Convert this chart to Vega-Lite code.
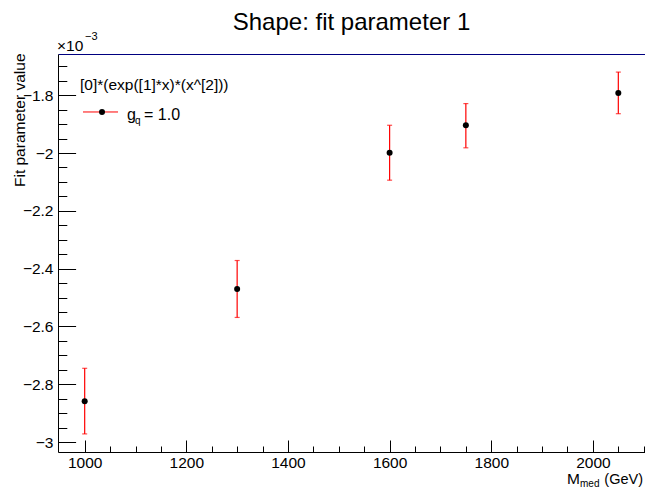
{
  "$schema": "https://vega.github.io/schema/vega-lite/v6.json",
  "width": 587,
  "height": 398,
  "autosize": {"type": "none"},
  "padding": {"left": 58, "top": 54, "right": 0, "bottom": 39},
  "background": "white",
  "config": {
    "view": {"stroke": null},
    "font": "Liberation Sans",
    "axis": {
      "grid": false,
      "labelFont": "Liberation Sans",
      "titleFont": "Liberation Sans",
      "labelColor": "black",
      "tickColor": "black",
      "domainColor": "black",
      "labelFontSize": 15.5,
      "titleFontSize": 15.5,
      "titleFontWeight": "normal",
      "titleColor": "black",
      "tickWidth": 1,
      "domainWidth": 1
    }
  },
  "title": {
    "text": "Shape: fit parameter 1",
    "font": "Liberation Sans",
    "fontSize": 24,
    "fontWeight": "normal",
    "color": "black",
    "anchor": "middle",
    "frame": "group",
    "baseline": "alphabetic",
    "offset": -23
  },
  "data": {
    "values": [
      {"mass": 1000, "value": -2.859, "lo": -2.972, "hi": -2.745},
      {"mass": 1300, "value": -2.471, "lo": -2.569, "hi": -2.372},
      {"mass": 1600, "value": -1.999, "lo": -2.094, "hi": -1.904},
      {"mass": 1750, "value": -1.904, "lo": -1.982, "hi": -1.829},
      {"mass": 2050, "value": -1.792, "lo": -1.864, "hi": -1.720}
    ]
  },
  "resolve": {"axis": {"x": "independent", "y": "independent"}},
  "layer": [
    {
      "mark": {"type": "rule", "color": "#ff0000", "strokeWidth": 1.2},
      "encoding": {
        "x": {
          "field": "mass", "type": "quantitative",
          "scale": {"domain": [947.5, 2102.5], "nice": false, "zero": false},
          "axis": {
            "orient": "bottom",
            "values": [1000, 1200, 1400, 1600, 1800, 2000],
            "tickSize": -12,
            "labelPadding": 15.5,
            "format": "d",
            "labelFlush": false,
            "labelOverlap": false,
            "title": null
          }
        },
        "y": {
          "field": "lo", "type": "quantitative",
          "scale": {"domain": [-3.0346, -1.6574], "nice": false, "zero": false},
          "axis": {
            "orient": "left",
            "values": [-3, -2.8, -2.6, -2.4, -2.2, -2, -1.8],
            "tickSize": -17.6,
            "labelPadding": 22.6,
            "labelExpr": "'\u2212' + format(-datum.value, '~g')",
            "labelFlush": false,
            "labelOverlap": false,
            "title": "Fit parameter value",
            "titleAngle": 270,
            "titleX": -34,
            "titleY": -1,
            "titleAlign": "right",
            "titleBaseline": "alphabetic"
          }
        },
        "y2": {"field": "hi"}
      }
    },
    {
      "mark": {"type": "tick", "orient": "horizontal", "color": "#ff0000", "size": 5, "thickness": 1.2},
      "encoding": {
        "x": {"field": "mass", "type": "quantitative", "scale": {"domain": [947.5, 2102.5], "nice": false, "zero": false}, "axis": null},
        "y": {"field": "lo", "type": "quantitative", "scale": {"domain": [-3.0346, -1.6574], "nice": false, "zero": false}, "axis": null}
      }
    },
    {
      "mark": {"type": "tick", "orient": "horizontal", "color": "#ff0000", "size": 5, "thickness": 1.2},
      "encoding": {
        "x": {"field": "mass", "type": "quantitative", "scale": {"domain": [947.5, 2102.5], "nice": false, "zero": false}, "axis": null},
        "y": {"field": "hi", "type": "quantitative", "scale": {"domain": [-3.0346, -1.6574], "nice": false, "zero": false}, "axis": null}
      }
    },
    {
      "mark": {"type": "circle", "color": "black", "size": 36, "opacity": 1},
      "encoding": {
        "x": {
          "field": "mass", "type": "quantitative",
          "scale": {"domain": [947.5, 2102.5], "nice": false, "zero": false},
          "axis": {
            "orient": "bottom",
            "values": [1050, 1100, 1150, 1250, 1300, 1350, 1450, 1500, 1550, 1650, 1700, 1750, 1850, 1900, 1950, 2050, 2100],
            "tickSize": -6,
            "labels": false,
            "domain": false,
            "title": null
          }
        },
        "y": {
          "field": "value", "type": "quantitative",
          "scale": {"domain": [-3.0346, -1.6574], "nice": false, "zero": false},
          "axis": {
            "orient": "left",
            "values": [-2.95, -2.9, -2.85, -2.75, -2.7, -2.65, -2.55, -2.5, -2.45, -2.35, -2.3, -2.25, -2.15, -2.1, -2.05, -1.95, -1.9, -1.85, -1.75, -1.7],
            "tickSize": -8.8,
            "labels": false,
            "domain": false,
            "title": null
          }
        }
      }
    },
    {
      "data": {"values": [{}]},
      "mark": {"type": "text", "text": "×10", "align": "left", "baseline": "alphabetic", "dx": -1, "dy": -3, "fontSize": 15.5, "color": "black"},
      "encoding": {
        "x": {"datum": 947.5, "type": "quantitative", "scale": {"domain": [947.5, 2102.5], "nice": false, "zero": false},
          "axis": {"orient": "top", "domainColor": "#000080", "domainWidth": 1, "ticks": false, "labels": false, "title": null}},
        "y": {"datum": -1.6574, "type": "quantitative", "scale": {"domain": [-3.0346, -1.6574], "nice": false, "zero": false}, "axis": null}
      }
    },
    {
      "data": {"values": [{}]},
      "mark": {"type": "text", "text": "−3", "align": "left", "baseline": "alphabetic", "dx": 27, "dy": -14, "fontSize": 11, "color": "black"},
      "encoding": {
        "x": {"datum": 947.5, "type": "quantitative", "axis": null},
        "y": {"datum": -1.6574, "type": "quantitative", "axis": null}
      }
    },
    {
      "data": {"values": [{}]},
      "mark": {"type": "text", "text": "[0]*(exp([1]*x)*(x^[2]))", "align": "left", "baseline": "alphabetic", "dx": 22, "dy": 36, "fontSize": 15.5, "color": "black"},
      "encoding": {
        "x": {"datum": 947.5, "type": "quantitative", "axis": null},
        "y": {"datum": -1.6574, "type": "quantitative", "axis": null}
      }
    },
    {
      "data": {"values": [{}]},
      "mark": {"type": "rule", "color": "#ff0000", "strokeWidth": 1},
      "encoding": {
        "x": {"datum": 996.7, "type": "quantitative", "axis": null},
        "x2": {"datum": 1065.6},
        "y": {"datum": -1.858, "type": "quantitative", "axis": null}
      }
    },
    {
      "data": {"values": [{}]},
      "mark": {"type": "circle", "color": "black", "size": 36, "opacity": 1},
      "encoding": {
        "x": {"datum": 1034.1, "type": "quantitative", "axis": null},
        "y": {"datum": -1.858, "type": "quantitative", "axis": null}
      }
    },
    {
      "data": {"values": [{}]},
      "mark": {"type": "text", "text": "g", "align": "left", "baseline": "alphabetic", "dx": 69, "dy": 66, "fontSize": 16, "color": "black"},
      "encoding": {
        "x": {"datum": 947.5, "type": "quantitative", "axis": null},
        "y": {"datum": -1.6574, "type": "quantitative", "axis": null}
      }
    },
    {
      "data": {"values": [{}]},
      "mark": {"type": "text", "text": "q", "align": "left", "baseline": "alphabetic", "dx": 77, "dy": 70, "fontSize": 10, "color": "black"},
      "encoding": {
        "x": {"datum": 947.5, "type": "quantitative", "axis": null},
        "y": {"datum": -1.6574, "type": "quantitative", "axis": null}
      }
    },
    {
      "data": {"values": [{}]},
      "mark": {"type": "text", "text": "= 1.0", "align": "left", "baseline": "alphabetic", "dx": 86, "dy": 66, "fontSize": 16, "color": "black"},
      "encoding": {
        "x": {"datum": 947.5, "type": "quantitative", "axis": null},
        "y": {"datum": -1.6574, "type": "quantitative", "axis": null}
      }
    },
    {
      "data": {"values": [{}]},
      "mark": {"type": "text", "text": "M", "align": "left", "baseline": "alphabetic", "dx": -78, "dy": 32, "fontSize": 15.5, "color": "black"},
      "encoding": {
        "x": {"datum": 2102.5, "type": "quantitative", "axis": null},
        "y": {"datum": -3.0346, "type": "quantitative", "axis": null}
      }
    },
    {
      "data": {"values": [{}]},
      "mark": {"type": "text", "text": "med", "align": "left", "baseline": "alphabetic", "dx": -65, "dy": 35, "fontSize": 10, "color": "black"},
      "encoding": {
        "x": {"datum": 2102.5, "type": "quantitative", "axis": null},
        "y": {"datum": -3.0346, "type": "quantitative", "axis": null}
      }
    },
    {
      "data": {"values": [{}]},
      "mark": {"type": "text", "text": "(GeV)", "align": "right", "baseline": "alphabetic", "dx": -2, "dy": 32, "fontSize": 14.5, "color": "black"},
      "encoding": {
        "x": {"datum": 2102.5, "type": "quantitative", "axis": null},
        "y": {"datum": -3.0346, "type": "quantitative", "axis": null}
      }
    }
  ]
}
